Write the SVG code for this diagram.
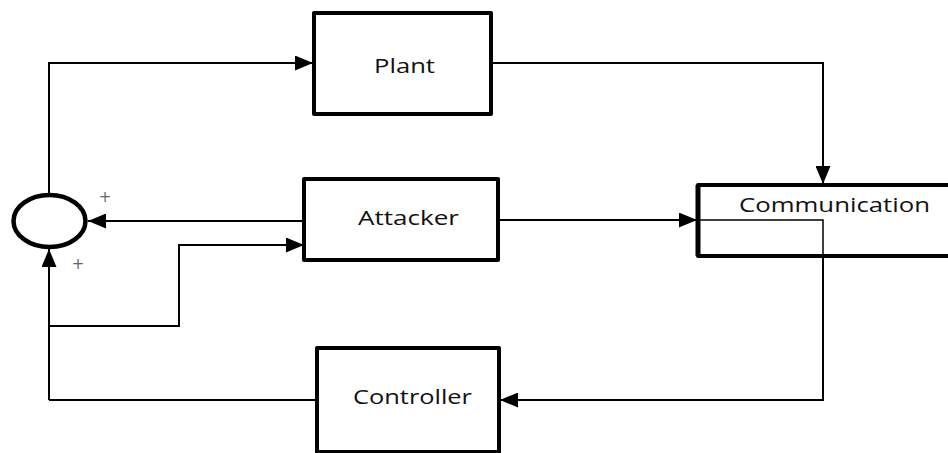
<svg xmlns="http://www.w3.org/2000/svg" width="948" height="453" viewBox="0 0 948 453">
<style>
.box{fill:#fff;stroke:#000;stroke-width:4;stroke-linejoin:round}
.lbl{font-family:"Open Sans","Noto Sans",sans-serif;font-size:20px;fill:#111}
.ln{fill:none;stroke:#000;stroke-width:2}
.thin{fill:none;stroke:#000;stroke-width:1.5}
.plus{font-family:"DejaVu Sans",sans-serif;font-size:15px;fill:#666;text-anchor:middle}
</style>
<defs>
<marker id="ah" markerWidth="18" markerHeight="15" refX="18" refY="7.5" orient="auto" markerUnits="userSpaceOnUse">
<path d="M0,0 L18,7.5 L0,15 Z" fill="#000"/>
</marker>
</defs>
<g id="connectors">
<path class="ln" d="M49,195 V63 H313" marker-end="url(#ah)"/>
<path class="ln" d="M492,63 H823 V184" marker-end="url(#ah)"/>
<path class="ln" d="M304,221 H88" marker-end="url(#ah)"/>
<path class="ln" d="M49,400 V249" marker-end="url(#ah)"/>
<path class="ln" d="M49,326 H179 V245 H304" marker-end="url(#ah)"/>
<path class="ln" d="M499,220 H697" marker-end="url(#ah)"/>
<path class="ln" d="M823,256 V400 H500" marker-end="url(#ah)"/>
<path class="ln" d="M317,400 H49"/>
</g>
<g id="sum">
<ellipse cx="49.5" cy="221" rx="36" ry="26" fill="#fff" stroke="#000" stroke-width="4.5"/>
<text class="plus" x="105" y="202">+</text>
<text class="plus" x="78" y="269">+</text>
</g>
<g id="plant">
<rect class="box" x="314" y="13" width="177" height="101"/>
<text class="lbl" x="374" y="73" textLength="61" lengthAdjust="spacingAndGlyphs">Plant</text>
</g>
<g id="attacker">
<rect class="box" x="304" y="179" width="194" height="81"/>
<text class="lbl" x="358" y="225" textLength="101" lengthAdjust="spacingAndGlyphs">Attacker</text>
</g>
<g id="communication">
<rect class="box" x="698" y="185" width="252" height="71"/>
<line x1="698" y1="185" x2="698" y2="256" stroke="#000" stroke-width="5"/>
<text class="lbl" x="739" y="212" textLength="191" lengthAdjust="spacingAndGlyphs">Communication</text>
<path class="thin" d="M698,220 H823 V256"/>
</g>
<g id="controller">
<rect class="box" x="317" y="348" width="182" height="104"/>
<text class="lbl" x="353" y="404" textLength="119" lengthAdjust="spacingAndGlyphs">Controller</text>
</g>
</svg>
